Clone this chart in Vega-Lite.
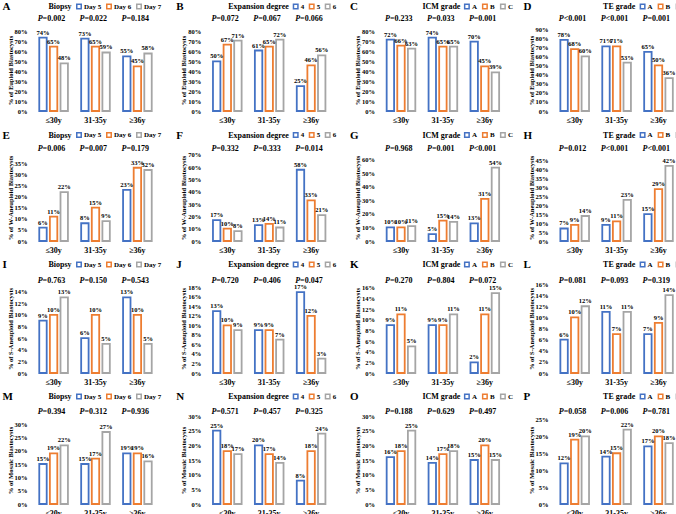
{
"$schema": "https://vega.github.io/schema/vega-lite/v6.json",
"padding": {"left": 2, "top": 1, "right": 0, "bottom": 0},
"background": "white",
"columns": 4,
"spacing": {"row": 43, "column": 54.7},
"bounds": "flush",
"align": "each",
"resolve": {"scale": {"x": "independent", "y": "independent", "xOffset": "independent", "color": "independent"}, "legend": {"color": "independent"}},
"config": {
  "view": {"stroke": null},
  "font": "Liberation Serif",
  "axis": {"grid": false, "domain": false, "ticks": false, "labelFont": "Liberation Serif", "labelFontWeight": "bold", "labelColor": "black", "titleFont": "Liberation Serif", "titleFontWeight": "bold", "titleColor": "black", "labelOverlap": false},
  "axisX": {"labelFontSize": 8, "labelPadding": 5, "labelAngle": 0},
  "axisY": {"labelFontSize": 6.5, "labelPadding": 9, "titleFontSize": 6.5, "titlePadding": 1, "labelFlush": false, "labelOverlap": false, "labelBound": false, "tickCount": 20},
  "legend": {"orient": "none", "direction": "horizontal", "titleOrient": "left", "titleFont": "Liberation Serif", "titleFontSize": 8, "titleFontWeight": "bold", "titleColor": "black", "labelFont": "Liberation Serif", "labelFontSize": 7, "labelFontWeight": "bold", "labelColor": "black", "symbolType": "square", "symbolSize": 20, "symbolStrokeWidth": 1.5, "symbolFillColor": "white", "titlePadding": 3, "columnPadding": 2, "labelOffset": 1.5, "padding": 0, "gridAlign": "none"},
  "title": {"anchor": "start", "frame": "group", "dx": -33.5, "offset": -9, "fontSize": 11, "font": "Liberation Serif", "fontWeight": "bold", "color": "black"},
  "text": {"font": "Liberation Serif", "fontWeight": "bold", "color": "black"}
},
"datasets": {
"bars": [
{"panel":"A","age":"≤30y","cat":"Day 5","v":0.74},{"panel":"A","age":"≤30y","cat":"Day 6","v":0.65},{"panel":"A","age":"≤30y","cat":"Day 7","v":0.48},
{"panel":"A","age":"31-35y","cat":"Day 5","v":0.73},{"panel":"A","age":"31-35y","cat":"Day 6","v":0.65},{"panel":"A","age":"31-35y","cat":"Day 7","v":0.59},
{"panel":"A","age":"≥36y","cat":"Day 5","v":0.55},{"panel":"A","age":"≥36y","cat":"Day 6","v":0.45},{"panel":"A","age":"≥36y","cat":"Day 7","v":0.58},
{"panel":"B","age":"≤30y","cat":"4","v":0.50},{"panel":"B","age":"≤30y","cat":"5","v":0.67},{"panel":"B","age":"≤30y","cat":"6","v":0.71},
{"panel":"B","age":"31-35y","cat":"4","v":0.61},{"panel":"B","age":"31-35y","cat":"5","v":0.65},{"panel":"B","age":"31-35y","cat":"6","v":0.72},
{"panel":"B","age":"≥36y","cat":"4","v":0.25},{"panel":"B","age":"≥36y","cat":"5","v":0.46},{"panel":"B","age":"≥36y","cat":"6","v":0.56},
{"panel":"C","age":"≤30y","cat":"A","v":0.72},{"panel":"C","age":"≤30y","cat":"B","v":0.66},{"panel":"C","age":"≤30y","cat":"C","v":0.63},
{"panel":"C","age":"31-35y","cat":"A","v":0.74},{"panel":"C","age":"31-35y","cat":"B","v":0.65},{"panel":"C","age":"31-35y","cat":"C","v":0.65},
{"panel":"C","age":"≥36y","cat":"A","v":0.70},{"panel":"C","age":"≥36y","cat":"B","v":0.45},{"panel":"C","age":"≥36y","cat":"C","v":0.39},
{"panel":"D","age":"≤30y","cat":"A","v":0.78},{"panel":"D","age":"≤30y","cat":"B","v":0.68},{"panel":"D","age":"≤30y","cat":"C","v":0.60},
{"panel":"D","age":"31-35y","cat":"A","v":0.71},{"panel":"D","age":"31-35y","cat":"B","v":0.71},{"panel":"D","age":"31-35y","cat":"C","v":0.53},
{"panel":"D","age":"≥36y","cat":"A","v":0.65},{"panel":"D","age":"≥36y","cat":"B","v":0.50},{"panel":"D","age":"≥36y","cat":"C","v":0.36},
{"panel":"E","age":"≤30y","cat":"Day 5","v":0.06},{"panel":"E","age":"≤30y","cat":"Day 6","v":0.11},{"panel":"E","age":"≤30y","cat":"Day 7","v":0.22},
{"panel":"E","age":"31-35y","cat":"Day 5","v":0.08},{"panel":"E","age":"31-35y","cat":"Day 6","v":0.15},{"panel":"E","age":"31-35y","cat":"Day 7","v":0.09},
{"panel":"E","age":"≥36y","cat":"Day 5","v":0.23},{"panel":"E","age":"≥36y","cat":"Day 6","v":0.33},{"panel":"E","age":"≥36y","cat":"Day 7","v":0.32},
{"panel":"F","age":"≤30y","cat":"4","v":0.17},{"panel":"F","age":"≤30y","cat":"5","v":0.10},{"panel":"F","age":"≤30y","cat":"6","v":0.08},
{"panel":"F","age":"31-35y","cat":"4","v":0.13},{"panel":"F","age":"31-35y","cat":"5","v":0.14},{"panel":"F","age":"31-35y","cat":"6","v":0.11},
{"panel":"F","age":"≥36y","cat":"4","v":0.58},{"panel":"F","age":"≥36y","cat":"5","v":0.33},{"panel":"F","age":"≥36y","cat":"6","v":0.21},
{"panel":"G","age":"≤30y","cat":"A","v":0.10},{"panel":"G","age":"≤30y","cat":"B","v":0.10},{"panel":"G","age":"≤30y","cat":"C","v":0.11},
{"panel":"G","age":"31-35y","cat":"A","v":0.05},{"panel":"G","age":"31-35y","cat":"B","v":0.15},{"panel":"G","age":"31-35y","cat":"C","v":0.14},
{"panel":"G","age":"≥36y","cat":"A","v":0.13},{"panel":"G","age":"≥36y","cat":"B","v":0.31},{"panel":"G","age":"≥36y","cat":"C","v":0.54},
{"panel":"H","age":"≤30y","cat":"A","v":0.07},{"panel":"H","age":"≤30y","cat":"B","v":0.09},{"panel":"H","age":"≤30y","cat":"C","v":0.14},
{"panel":"H","age":"31-35y","cat":"A","v":0.09},{"panel":"H","age":"31-35y","cat":"B","v":0.11},{"panel":"H","age":"31-35y","cat":"C","v":0.23},
{"panel":"H","age":"≥36y","cat":"A","v":0.15},{"panel":"H","age":"≥36y","cat":"B","v":0.29},{"panel":"H","age":"≥36y","cat":"C","v":0.42},
{"panel":"I","age":"≤30y","cat":"Day 5","v":0.09},{"panel":"I","age":"≤30y","cat":"Day 6","v":0.10},{"panel":"I","age":"≤30y","cat":"Day 7","v":0.13},
{"panel":"I","age":"31-35y","cat":"Day 5","v":0.06},{"panel":"I","age":"31-35y","cat":"Day 6","v":0.10},{"panel":"I","age":"31-35y","cat":"Day 7","v":0.05},
{"panel":"I","age":"≥36y","cat":"Day 5","v":0.13},{"panel":"I","age":"≥36y","cat":"Day 6","v":0.10},{"panel":"I","age":"≥36y","cat":"Day 7","v":0.05},
{"panel":"J","age":"≤30y","cat":"4","v":0.13},{"panel":"J","age":"≤30y","cat":"5","v":0.10},{"panel":"J","age":"≤30y","cat":"6","v":0.09},
{"panel":"J","age":"31-35y","cat":"4","v":0.09},{"panel":"J","age":"31-35y","cat":"5","v":0.09},{"panel":"J","age":"31-35y","cat":"6","v":0.07},
{"panel":"J","age":"≥36y","cat":"4","v":0.17},{"panel":"J","age":"≥36y","cat":"5","v":0.12},{"panel":"J","age":"≥36y","cat":"6","v":0.03},
{"panel":"K","age":"≤30y","cat":"A","v":0.09},{"panel":"K","age":"≤30y","cat":"B","v":0.11},{"panel":"K","age":"≤30y","cat":"C","v":0.05},
{"panel":"K","age":"31-35y","cat":"A","v":0.09},{"panel":"K","age":"31-35y","cat":"B","v":0.09},{"panel":"K","age":"31-35y","cat":"C","v":0.11},
{"panel":"K","age":"≥36y","cat":"A","v":0.02},{"panel":"K","age":"≥36y","cat":"B","v":0.11},{"panel":"K","age":"≥36y","cat":"C","v":0.15},
{"panel":"L","age":"≤30y","cat":"A","v":0.06},{"panel":"L","age":"≤30y","cat":"B","v":0.10},{"panel":"L","age":"≤30y","cat":"C","v":0.12},
{"panel":"L","age":"31-35y","cat":"A","v":0.11},{"panel":"L","age":"31-35y","cat":"B","v":0.07},{"panel":"L","age":"31-35y","cat":"C","v":0.11},
{"panel":"L","age":"≥36y","cat":"A","v":0.07},{"panel":"L","age":"≥36y","cat":"B","v":0.09},{"panel":"L","age":"≥36y","cat":"C","v":0.14},
{"panel":"M","age":"≤30y","cat":"Day 5","v":0.15},{"panel":"M","age":"≤30y","cat":"Day 6","v":0.19},{"panel":"M","age":"≤30y","cat":"Day 7","v":0.22},
{"panel":"M","age":"31-35y","cat":"Day 5","v":0.15},{"panel":"M","age":"31-35y","cat":"Day 6","v":0.17},{"panel":"M","age":"31-35y","cat":"Day 7","v":0.27},
{"panel":"M","age":"≥36y","cat":"Day 5","v":0.19},{"panel":"M","age":"≥36y","cat":"Day 6","v":0.19},{"panel":"M","age":"≥36y","cat":"Day 7","v":0.16},
{"panel":"N","age":"≤30y","cat":"4","v":0.25},{"panel":"N","age":"≤30y","cat":"5","v":0.18},{"panel":"N","age":"≤30y","cat":"6","v":0.17},
{"panel":"N","age":"31-35y","cat":"4","v":0.20},{"panel":"N","age":"31-35y","cat":"5","v":0.17},{"panel":"N","age":"31-35y","cat":"6","v":0.14},
{"panel":"N","age":"≥36y","cat":"4","v":0.08},{"panel":"N","age":"≥36y","cat":"5","v":0.18},{"panel":"N","age":"≥36y","cat":"6","v":0.24},
{"panel":"O","age":"≤30y","cat":"A","v":0.16},{"panel":"O","age":"≤30y","cat":"B","v":0.18},{"panel":"O","age":"≤30y","cat":"C","v":0.25},
{"panel":"O","age":"31-35y","cat":"A","v":0.14},{"panel":"O","age":"31-35y","cat":"B","v":0.17},{"panel":"O","age":"31-35y","cat":"C","v":0.18},
{"panel":"O","age":"≥36y","cat":"A","v":0.15},{"panel":"O","age":"≥36y","cat":"B","v":0.20},{"panel":"O","age":"≥36y","cat":"C","v":0.15},
{"panel":"P","age":"≤30y","cat":"A","v":0.12},{"panel":"P","age":"≤30y","cat":"B","v":0.19},{"panel":"P","age":"≤30y","cat":"C","v":0.20},
{"panel":"P","age":"31-35y","cat":"A","v":0.14},{"panel":"P","age":"31-35y","cat":"B","v":0.15},{"panel":"P","age":"31-35y","cat":"C","v":0.22},
{"panel":"P","age":"≥36y","cat":"A","v":0.17},{"panel":"P","age":"≥36y","cat":"B","v":0.20},{"panel":"P","age":"≥36y","cat":"C","v":0.18}
],
"pv": [
{"panel":"A","age":"≤30y","rest":"=0.002"},{"panel":"A","age":"31-35y","rest":"=0.022"},{"panel":"A","age":"≥36y","rest":"=0.184"},
{"panel":"B","age":"≤30y","rest":"=0.072"},{"panel":"B","age":"31-35y","rest":"=0.067"},{"panel":"B","age":"≥36y","rest":"=0.066"},
{"panel":"C","age":"≤30y","rest":"=0.233"},{"panel":"C","age":"31-35y","rest":"=0.033"},{"panel":"C","age":"≥36y","rest":"=0.001"},
{"panel":"D","age":"≤30y","rest":"<0.001"},{"panel":"D","age":"31-35y","rest":" <0.001"},{"panel":"D","age":"≥36y","rest":"=0.001"},
{"panel":"E","age":"≤30y","rest":"=0.006"},{"panel":"E","age":"31-35y","rest":"=0.007"},{"panel":"E","age":"≥36y","rest":"=0.179"},
{"panel":"F","age":"≤30y","rest":"=0.332"},{"panel":"F","age":"31-35y","rest":"=0.333"},{"panel":"F","age":"≥36y","rest":"=0.014"},
{"panel":"G","age":"≤30y","rest":"=0.968"},{"panel":"G","age":"31-35y","rest":"=0.001"},{"panel":"G","age":"≥36y","rest":" <0.001"},
{"panel":"H","age":"≤30y","rest":"=0.012"},{"panel":"H","age":"31-35y","rest":" <0.001"},{"panel":"H","age":"≥36y","rest":"<0.001"},
{"panel":"I","age":"≤30y","rest":"=0.763"},{"panel":"I","age":"31-35y","rest":"=0.150"},{"panel":"I","age":"≥36y","rest":"=0.543"},
{"panel":"J","age":"≤30y","rest":"=0.720"},{"panel":"J","age":"31-35y","rest":"=0.406"},{"panel":"J","age":"≥36y","rest":"=0.047"},
{"panel":"K","age":"≤30y","rest":"=0.270"},{"panel":"K","age":"31-35y","rest":"=0.804"},{"panel":"K","age":"≥36y","rest":"=0.072"},
{"panel":"L","age":"≤30y","rest":"=0.081"},{"panel":"L","age":"31-35y","rest":"=0.093"},{"panel":"L","age":"≥36y","rest":"=0.319"},
{"panel":"M","age":"≤30y","rest":"=0.394"},{"panel":"M","age":"31-35y","rest":"=0.312"},{"panel":"M","age":"≥36y","rest":"=0.936"},
{"panel":"N","age":"≤30y","rest":"=0.571"},{"panel":"N","age":"31-35y","rest":"=0.457"},{"panel":"N","age":"≥36y","rest":"=0.325"},
{"panel":"O","age":"≤30y","rest":"=0.188"},{"panel":"O","age":"31-35y","rest":"=0.629"},{"panel":"O","age":"≥36y","rest":"=0.497"},
{"panel":"P","age":"≤30y","rest":"=0.058"},{"panel":"P","age":"31-35y","rest":"=0.006"},{"panel":"P","age":"≥36y","rest":"=0.781"}
]
},
"concat": [
{"title": {"text": "A"}, "width": 119, "height": 82, "layer": [
 {"data": {"name": "bars"}, "transform": [{"filter": "datum.panel == 'A'"}], "mark": {"type": "bar", "filled": false, "strokeWidth": 1.8},
  "encoding": {"x": {"field": "age", "type": "nominal", "sort": ["≤30y","31-35y","≥36y"], "title": null, "scale": {"paddingInner": 0.24, "paddingOuter": 0.04}},
   "xOffset": {"field": "cat", "type": "nominal", "scale": {"paddingInner": 0.3, "paddingOuter": 0.15}},
   "y": {"field": "v", "type": "quantitative", "scale": {"domain": [0, 0.827], "nice": false}, "axis": {"values": [0,0.1,0.2,0.3,0.4,0.5,0.6,0.7,0.8], "tickCount": 20, "format": ".0%", "labelOverlap": false, "title": "% of Euploid Blastocysts"}},
   "color": {"field": "cat", "type": "nominal", "scale": {"range": ["#4472C4","#ED7D31","#A5A5A5"]}, "legend": {"title": "Biopsy", "legendX": 12.5, "legendY": -26}}}},
 {"data": {"name": "bars"}, "transform": [{"filter": "datum.panel == 'A'"}], "mark": {"type": "text", "baseline": "bottom", "dy": -2, "fontSize": 6.5},
  "encoding": {"x": {"field": "age", "type": "nominal", "sort": ["≤30y","31-35y","≥36y"]}, "xOffset": {"field": "cat", "type": "nominal"}, "y": {"field": "v", "type": "quantitative"}, "text": {"field": "v", "type": "quantitative", "format": ".0%"}}},
 {"data": {"name": "pv"}, "transform": [{"filter": "datum.panel == 'A'"}], "mark": {"type": "text", "align": "right", "baseline": "middle", "dx": -11, "dy": -51, "fontSize": 8, "fontStyle": "italic"},
  "encoding": {"x": {"field": "age", "type": "nominal", "sort": ["≤30y","31-35y","≥36y"]}, "text": {"value": "P"}}},
 {"data": {"name": "pv"}, "transform": [{"filter": "datum.panel == 'A'"}], "mark": {"type": "text", "align": "left", "baseline": "middle", "dx": -11, "dy": -51, "fontSize": 8},
  "encoding": {"x": {"field": "age", "type": "nominal", "sort": ["≤30y","31-35y","≥36y"]}, "text": {"field": "rest"}}}
]},
{"title": {"text": "B"}, "width": 119, "height": 82, "layer": [
 {"data": {"name": "bars"}, "transform": [{"filter": "datum.panel == 'B'"}], "mark": {"type": "bar", "filled": false, "strokeWidth": 1.8},
  "encoding": {"x": {"field": "age", "type": "nominal", "sort": ["≤30y","31-35y","≥36y"], "title": null, "scale": {"paddingInner": 0.24, "paddingOuter": 0.04}},
   "xOffset": {"field": "cat", "type": "nominal", "scale": {"paddingInner": 0.3, "paddingOuter": 0.15}},
   "y": {"field": "v", "type": "quantitative", "scale": {"domain": [0, 0.827], "nice": false}, "axis": {"values": [0,0.1,0.2,0.3,0.4,0.5,0.6,0.7,0.8], "tickCount": 20, "format": ".0%", "labelOverlap": false, "title": "% of Euploid Blastocysts"}},
   "color": {"field": "cat", "type": "nominal", "scale": {"range": ["#4472C4","#ED7D31","#A5A5A5"]}, "legend": {"title": "Expansion degree", "legendX": 18.5, "legendY": -26}}}},
 {"data": {"name": "bars"}, "transform": [{"filter": "datum.panel == 'B'"}], "mark": {"type": "text", "baseline": "bottom", "dy": -2, "fontSize": 6.5},
  "encoding": {"x": {"field": "age", "type": "nominal", "sort": ["≤30y","31-35y","≥36y"]}, "xOffset": {"field": "cat", "type": "nominal"}, "y": {"field": "v", "type": "quantitative"}, "text": {"field": "v", "type": "quantitative", "format": ".0%"}}},
 {"data": {"name": "pv"}, "transform": [{"filter": "datum.panel == 'B'"}], "mark": {"type": "text", "align": "right", "baseline": "middle", "dx": -11, "dy": -51, "fontSize": 8, "fontStyle": "italic"},
  "encoding": {"x": {"field": "age", "type": "nominal", "sort": ["≤30y","31-35y","≥36y"]}, "text": {"value": "P"}}},
 {"data": {"name": "pv"}, "transform": [{"filter": "datum.panel == 'B'"}], "mark": {"type": "text", "align": "left", "baseline": "middle", "dx": -11, "dy": -51, "fontSize": 8},
  "encoding": {"x": {"field": "age", "type": "nominal", "sort": ["≤30y","31-35y","≥36y"]}, "text": {"field": "rest"}}}
]},
{"title": {"text": "C"}, "width": 119, "height": 82, "layer": [
 {"data": {"name": "bars"}, "transform": [{"filter": "datum.panel == 'C'"}], "mark": {"type": "bar", "filled": false, "strokeWidth": 1.8},
  "encoding": {"x": {"field": "age", "type": "nominal", "sort": ["≤30y","31-35y","≥36y"], "title": null, "scale": {"paddingInner": 0.24, "paddingOuter": 0.04}},
   "xOffset": {"field": "cat", "type": "nominal", "scale": {"paddingInner": 0.3, "paddingOuter": 0.15}},
   "y": {"field": "v", "type": "quantitative", "scale": {"domain": [0, 0.827], "nice": false}, "axis": {"values": [0,0.1,0.2,0.3,0.4,0.5,0.6,0.7,0.8], "tickCount": 20, "format": ".0%", "labelOverlap": false, "title": "% of Euploid Blastocysts"}},
   "color": {"field": "cat", "type": "nominal", "scale": {"range": ["#4472C4","#ED7D31","#A5A5A5"]}, "legend": {"title": "ICM grade", "legendX": 39, "legendY": -26}}}},
 {"data": {"name": "bars"}, "transform": [{"filter": "datum.panel == 'C'"}], "mark": {"type": "text", "baseline": "bottom", "dy": -2, "fontSize": 6.5},
  "encoding": {"x": {"field": "age", "type": "nominal", "sort": ["≤30y","31-35y","≥36y"]}, "xOffset": {"field": "cat", "type": "nominal"}, "y": {"field": "v", "type": "quantitative"}, "text": {"field": "v", "type": "quantitative", "format": ".0%"}}},
 {"data": {"name": "pv"}, "transform": [{"filter": "datum.panel == 'C'"}], "mark": {"type": "text", "align": "right", "baseline": "middle", "dx": -11, "dy": -51, "fontSize": 8, "fontStyle": "italic"},
  "encoding": {"x": {"field": "age", "type": "nominal", "sort": ["≤30y","31-35y","≥36y"]}, "text": {"value": "P"}}},
 {"data": {"name": "pv"}, "transform": [{"filter": "datum.panel == 'C'"}], "mark": {"type": "text", "align": "left", "baseline": "middle", "dx": -11, "dy": -51, "fontSize": 8},
  "encoding": {"x": {"field": "age", "type": "nominal", "sort": ["≤30y","31-35y","≥36y"]}, "text": {"field": "rest"}}}
]},
{"title": {"text": "D"}, "width": 119, "height": 82, "layer": [
 {"data": {"name": "bars"}, "transform": [{"filter": "datum.panel == 'D'"}], "mark": {"type": "bar", "filled": false, "strokeWidth": 1.8},
  "encoding": {"x": {"field": "age", "type": "nominal", "sort": ["≤30y","31-35y","≥36y"], "title": null, "scale": {"paddingInner": 0.24, "paddingOuter": 0.04}},
   "xOffset": {"field": "cat", "type": "nominal", "scale": {"paddingInner": 0.3, "paddingOuter": 0.15}},
   "y": {"field": "v", "type": "quantitative", "scale": {"domain": [0, 0.9], "nice": false}, "axis": {"values": [0,0.1,0.2,0.3,0.4,0.5,0.6,0.7,0.8,0.9], "tickCount": 20, "format": ".0%", "labelOverlap": false, "title": "% of Euploid Blastocysts"}},
   "color": {"field": "cat", "type": "nominal", "scale": {"range": ["#4472C4","#ED7D31","#A5A5A5"]}, "legend": {"title": "TE grade", "legendX": 46, "legendY": -26}}}},
 {"data": {"name": "bars"}, "transform": [{"filter": "datum.panel == 'D'"}], "mark": {"type": "text", "baseline": "bottom", "dy": -2, "fontSize": 6.5},
  "encoding": {"x": {"field": "age", "type": "nominal", "sort": ["≤30y","31-35y","≥36y"]}, "xOffset": {"field": "cat", "type": "nominal"}, "y": {"field": "v", "type": "quantitative"}, "text": {"field": "v", "type": "quantitative", "format": ".0%"}}},
 {"data": {"name": "pv"}, "transform": [{"filter": "datum.panel == 'D'"}], "mark": {"type": "text", "align": "right", "baseline": "middle", "dx": -11, "dy": -51, "fontSize": 8, "fontStyle": "italic"},
  "encoding": {"x": {"field": "age", "type": "nominal", "sort": ["≤30y","31-35y","≥36y"]}, "text": {"value": "P"}}},
 {"data": {"name": "pv"}, "transform": [{"filter": "datum.panel == 'D'"}], "mark": {"type": "text", "align": "left", "baseline": "middle", "dx": -11, "dy": -51, "fontSize": 8},
  "encoding": {"x": {"field": "age", "type": "nominal", "sort": ["≤30y","31-35y","≥36y"]}, "text": {"field": "rest"}}}
]},
{"title": {"text": "E"}, "width": 119, "height": 87, "layer": [
 {"data": {"name": "bars"}, "transform": [{"filter": "datum.panel == 'E'"}], "mark": {"type": "bar", "filled": false, "strokeWidth": 1.8},
  "encoding": {"x": {"field": "age", "type": "nominal", "sort": ["≤30y","31-35y","≥36y"], "title": null, "scale": {"paddingInner": 0.24, "paddingOuter": 0.04}},
   "xOffset": {"field": "cat", "type": "nominal", "scale": {"paddingInner": 0.3, "paddingOuter": 0.15}},
   "y": {"field": "v", "type": "quantitative", "scale": {"domain": [0, 0.392], "nice": false}, "axis": {"values": [0,0.05,0.1,0.15,0.2,0.25,0.3,0.35], "tickCount": 20, "format": ".0%", "labelOverlap": false, "title": "% of W-Aneuploid Blastocysts"}},
   "color": {"field": "cat", "type": "nominal", "scale": {"range": ["#4472C4","#ED7D31","#A5A5A5"]}, "legend": {"title": "Biopsy", "legendX": 12.5, "legendY": -22.5}}}},
 {"data": {"name": "bars"}, "transform": [{"filter": "datum.panel == 'E'"}], "mark": {"type": "text", "baseline": "bottom", "dy": -2, "fontSize": 6.5},
  "encoding": {"x": {"field": "age", "type": "nominal", "sort": ["≤30y","31-35y","≥36y"]}, "xOffset": {"field": "cat", "type": "nominal"}, "y": {"field": "v", "type": "quantitative"}, "text": {"field": "v", "type": "quantitative", "format": ".0%"}}},
 {"data": {"name": "pv"}, "transform": [{"filter": "datum.panel == 'E'"}], "mark": {"type": "text", "align": "right", "baseline": "middle", "dx": -11, "dy": -48.5, "fontSize": 8, "fontStyle": "italic"},
  "encoding": {"x": {"field": "age", "type": "nominal", "sort": ["≤30y","31-35y","≥36y"]}, "text": {"value": "P"}}},
 {"data": {"name": "pv"}, "transform": [{"filter": "datum.panel == 'E'"}], "mark": {"type": "text", "align": "left", "baseline": "middle", "dx": -11, "dy": -48.5, "fontSize": 8},
  "encoding": {"x": {"field": "age", "type": "nominal", "sort": ["≤30y","31-35y","≥36y"]}, "text": {"field": "rest"}}}
]},
{"title": {"text": "F"}, "width": 119, "height": 87, "layer": [
 {"data": {"name": "bars"}, "transform": [{"filter": "datum.panel == 'F'"}], "mark": {"type": "bar", "filled": false, "strokeWidth": 1.8},
  "encoding": {"x": {"field": "age", "type": "nominal", "sort": ["≤30y","31-35y","≥36y"], "title": null, "scale": {"paddingInner": 0.24, "paddingOuter": 0.04}},
   "xOffset": {"field": "cat", "type": "nominal", "scale": {"paddingInner": 0.3, "paddingOuter": 0.15}},
   "y": {"field": "v", "type": "quantitative", "scale": {"domain": [0, 0.708], "nice": false}, "axis": {"values": [0,0.1,0.2,0.3,0.4,0.5,0.6,0.7], "tickCount": 20, "format": ".0%", "labelOverlap": false, "title": "% of W-Aneuploid Blastocysts"}},
   "color": {"field": "cat", "type": "nominal", "scale": {"range": ["#4472C4","#ED7D31","#A5A5A5"]}, "legend": {"title": "Expansion degree", "legendX": 18.5, "legendY": -22.5}}}},
 {"data": {"name": "bars"}, "transform": [{"filter": "datum.panel == 'F'"}], "mark": {"type": "text", "baseline": "bottom", "dy": -2, "fontSize": 6.5},
  "encoding": {"x": {"field": "age", "type": "nominal", "sort": ["≤30y","31-35y","≥36y"]}, "xOffset": {"field": "cat", "type": "nominal"}, "y": {"field": "v", "type": "quantitative"}, "text": {"field": "v", "type": "quantitative", "format": ".0%"}}},
 {"data": {"name": "pv"}, "transform": [{"filter": "datum.panel == 'F'"}], "mark": {"type": "text", "align": "right", "baseline": "middle", "dx": -11, "dy": -48.5, "fontSize": 8, "fontStyle": "italic"},
  "encoding": {"x": {"field": "age", "type": "nominal", "sort": ["≤30y","31-35y","≥36y"]}, "text": {"value": "P"}}},
 {"data": {"name": "pv"}, "transform": [{"filter": "datum.panel == 'F'"}], "mark": {"type": "text", "align": "left", "baseline": "middle", "dx": -11, "dy": -48.5, "fontSize": 8},
  "encoding": {"x": {"field": "age", "type": "nominal", "sort": ["≤30y","31-35y","≥36y"]}, "text": {"field": "rest"}}}
]},
{"title": {"text": "G"}, "width": 119, "height": 87, "layer": [
 {"data": {"name": "bars"}, "transform": [{"filter": "datum.panel == 'G'"}], "mark": {"type": "bar", "filled": false, "strokeWidth": 1.8},
  "encoding": {"x": {"field": "age", "type": "nominal", "sort": ["≤30y","31-35y","≥36y"], "title": null, "scale": {"paddingInner": 0.24, "paddingOuter": 0.04}},
   "xOffset": {"field": "cat", "type": "nominal", "scale": {"paddingInner": 0.3, "paddingOuter": 0.15}},
   "y": {"field": "v", "type": "quantitative", "scale": {"domain": [0, 0.64], "nice": false}, "axis": {"values": [0,0.1,0.2,0.3,0.4,0.5,0.6], "tickCount": 20, "format": ".0%", "labelOverlap": false, "title": "% of W-Aneuploid Blastocysts"}},
   "color": {"field": "cat", "type": "nominal", "scale": {"range": ["#4472C4","#ED7D31","#A5A5A5"]}, "legend": {"title": "ICM grade", "legendX": 39, "legendY": -22.5}}}},
 {"data": {"name": "bars"}, "transform": [{"filter": "datum.panel == 'G'"}], "mark": {"type": "text", "baseline": "bottom", "dy": -2, "fontSize": 6.5},
  "encoding": {"x": {"field": "age", "type": "nominal", "sort": ["≤30y","31-35y","≥36y"]}, "xOffset": {"field": "cat", "type": "nominal"}, "y": {"field": "v", "type": "quantitative"}, "text": {"field": "v", "type": "quantitative", "format": ".0%"}}},
 {"data": {"name": "pv"}, "transform": [{"filter": "datum.panel == 'G'"}], "mark": {"type": "text", "align": "right", "baseline": "middle", "dx": -11, "dy": -48.5, "fontSize": 8, "fontStyle": "italic"},
  "encoding": {"x": {"field": "age", "type": "nominal", "sort": ["≤30y","31-35y","≥36y"]}, "text": {"value": "P"}}},
 {"data": {"name": "pv"}, "transform": [{"filter": "datum.panel == 'G'"}], "mark": {"type": "text", "align": "left", "baseline": "middle", "dx": -11, "dy": -48.5, "fontSize": 8},
  "encoding": {"x": {"field": "age", "type": "nominal", "sort": ["≤30y","31-35y","≥36y"]}, "text": {"field": "rest"}}}
]},
{"title": {"text": "H"}, "width": 119, "height": 87, "layer": [
 {"data": {"name": "bars"}, "transform": [{"filter": "datum.panel == 'H'"}], "mark": {"type": "bar", "filled": false, "strokeWidth": 1.8},
  "encoding": {"x": {"field": "age", "type": "nominal", "sort": ["≤30y","31-35y","≥36y"], "title": null, "scale": {"paddingInner": 0.24, "paddingOuter": 0.04}},
   "xOffset": {"field": "cat", "type": "nominal", "scale": {"paddingInner": 0.3, "paddingOuter": 0.15}},
   "y": {"field": "v", "type": "quantitative", "scale": {"domain": [0, 0.487], "nice": false}, "axis": {"values": [0,0.05,0.1,0.15,0.2,0.25,0.3,0.35,0.4,0.45], "tickCount": 20, "format": ".0%", "labelOverlap": false, "title": "% of W-Aneuploid Blastocysts"}},
   "color": {"field": "cat", "type": "nominal", "scale": {"range": ["#4472C4","#ED7D31","#A5A5A5"]}, "legend": {"title": "TE grade", "legendX": 46, "legendY": -22.5}}}},
 {"data": {"name": "bars"}, "transform": [{"filter": "datum.panel == 'H'"}], "mark": {"type": "text", "baseline": "bottom", "dy": -2, "fontSize": 6.5},
  "encoding": {"x": {"field": "age", "type": "nominal", "sort": ["≤30y","31-35y","≥36y"]}, "xOffset": {"field": "cat", "type": "nominal"}, "y": {"field": "v", "type": "quantitative"}, "text": {"field": "v", "type": "quantitative", "format": ".0%"}}},
 {"data": {"name": "pv"}, "transform": [{"filter": "datum.panel == 'H'"}], "mark": {"type": "text", "align": "right", "baseline": "middle", "dx": -11, "dy": -48.5, "fontSize": 8, "fontStyle": "italic"},
  "encoding": {"x": {"field": "age", "type": "nominal", "sort": ["≤30y","31-35y","≥36y"]}, "text": {"value": "P"}}},
 {"data": {"name": "pv"}, "transform": [{"filter": "datum.panel == 'H'"}], "mark": {"type": "text", "align": "left", "baseline": "middle", "dx": -11, "dy": -48.5, "fontSize": 8},
  "encoding": {"x": {"field": "age", "type": "nominal", "sort": ["≤30y","31-35y","≥36y"]}, "text": {"field": "rest"}}}
]},
{"title": {"text": "I"}, "width": 119, "height": 89, "layer": [
 {"data": {"name": "bars"}, "transform": [{"filter": "datum.panel == 'I'"}], "mark": {"type": "bar", "filled": false, "strokeWidth": 1.8},
  "encoding": {"x": {"field": "age", "type": "nominal", "sort": ["≤30y","31-35y","≥36y"], "title": null, "scale": {"paddingInner": 0.24, "paddingOuter": 0.04}},
   "xOffset": {"field": "cat", "type": "nominal", "scale": {"paddingInner": 0.3, "paddingOuter": 0.15}},
   "y": {"field": "v", "type": "quantitative", "scale": {"domain": [0, 0.153], "nice": false}, "axis": {"values": [0,0.02,0.04,0.06,0.08,0.1,0.12,0.14], "tickCount": 20, "format": ".0%", "labelOverlap": false, "title": "% of S-Aneuploid Blastocysts"}},
   "color": {"field": "cat", "type": "nominal", "scale": {"range": ["#4472C4","#ED7D31","#A5A5A5"]}, "legend": {"title": "Biopsy", "legendX": 12.5, "legendY": -23}}}},
 {"data": {"name": "bars"}, "transform": [{"filter": "datum.panel == 'I'"}], "mark": {"type": "text", "baseline": "bottom", "dy": -2, "fontSize": 6.5},
  "encoding": {"x": {"field": "age", "type": "nominal", "sort": ["≤30y","31-35y","≥36y"]}, "xOffset": {"field": "cat", "type": "nominal"}, "y": {"field": "v", "type": "quantitative"}, "text": {"field": "v", "type": "quantitative", "format": ".0%"}}},
 {"data": {"name": "pv"}, "transform": [{"filter": "datum.panel == 'I'"}], "mark": {"type": "text", "align": "right", "baseline": "middle", "dx": -11, "dy": -47.5, "fontSize": 8, "fontStyle": "italic"},
  "encoding": {"x": {"field": "age", "type": "nominal", "sort": ["≤30y","31-35y","≥36y"]}, "text": {"value": "P"}}},
 {"data": {"name": "pv"}, "transform": [{"filter": "datum.panel == 'I'"}], "mark": {"type": "text", "align": "left", "baseline": "middle", "dx": -11, "dy": -47.5, "fontSize": 8},
  "encoding": {"x": {"field": "age", "type": "nominal", "sort": ["≤30y","31-35y","≥36y"]}, "text": {"field": "rest"}}}
]},
{"title": {"text": "J"}, "width": 119, "height": 89, "layer": [
 {"data": {"name": "bars"}, "transform": [{"filter": "datum.panel == 'J'"}], "mark": {"type": "bar", "filled": false, "strokeWidth": 1.8},
  "encoding": {"x": {"field": "age", "type": "nominal", "sort": ["≤30y","31-35y","≥36y"], "title": null, "scale": {"paddingInner": 0.24, "paddingOuter": 0.04}},
   "xOffset": {"field": "cat", "type": "nominal", "scale": {"paddingInner": 0.3, "paddingOuter": 0.15}},
   "y": {"field": "v", "type": "quantitative", "scale": {"domain": [0, 0.187], "nice": false}, "axis": {"values": [0,0.02,0.04,0.06,0.08,0.1,0.12,0.14,0.16,0.18], "tickCount": 20, "format": ".0%", "labelOverlap": false, "title": "% of S-Aneuploid Blastocysts"}},
   "color": {"field": "cat", "type": "nominal", "scale": {"range": ["#4472C4","#ED7D31","#A5A5A5"]}, "legend": {"title": "Expansion degree", "legendX": 18.5, "legendY": -23}}}},
 {"data": {"name": "bars"}, "transform": [{"filter": "datum.panel == 'J'"}], "mark": {"type": "text", "baseline": "bottom", "dy": -2, "fontSize": 6.5},
  "encoding": {"x": {"field": "age", "type": "nominal", "sort": ["≤30y","31-35y","≥36y"]}, "xOffset": {"field": "cat", "type": "nominal"}, "y": {"field": "v", "type": "quantitative"}, "text": {"field": "v", "type": "quantitative", "format": ".0%"}}},
 {"data": {"name": "pv"}, "transform": [{"filter": "datum.panel == 'J'"}], "mark": {"type": "text", "align": "right", "baseline": "middle", "dx": -11, "dy": -47.5, "fontSize": 8, "fontStyle": "italic"},
  "encoding": {"x": {"field": "age", "type": "nominal", "sort": ["≤30y","31-35y","≥36y"]}, "text": {"value": "P"}}},
 {"data": {"name": "pv"}, "transform": [{"filter": "datum.panel == 'J'"}], "mark": {"type": "text", "align": "left", "baseline": "middle", "dx": -11, "dy": -47.5, "fontSize": 8},
  "encoding": {"x": {"field": "age", "type": "nominal", "sort": ["≤30y","31-35y","≥36y"]}, "text": {"field": "rest"}}}
]},
{"title": {"text": "K"}, "width": 119, "height": 89, "layer": [
 {"data": {"name": "bars"}, "transform": [{"filter": "datum.panel == 'K'"}], "mark": {"type": "bar", "filled": false, "strokeWidth": 1.8},
  "encoding": {"x": {"field": "age", "type": "nominal", "sort": ["≤30y","31-35y","≥36y"], "title": null, "scale": {"paddingInner": 0.24, "paddingOuter": 0.04}},
   "xOffset": {"field": "cat", "type": "nominal", "scale": {"paddingInner": 0.3, "paddingOuter": 0.15}},
   "y": {"field": "v", "type": "quantitative", "scale": {"domain": [0, 0.167], "nice": false}, "axis": {"values": [0,0.02,0.04,0.06,0.08,0.1,0.12,0.14,0.16], "tickCount": 20, "format": ".0%", "labelOverlap": false, "title": "% of S-Aneuploid Blastocysts"}},
   "color": {"field": "cat", "type": "nominal", "scale": {"range": ["#4472C4","#ED7D31","#A5A5A5"]}, "legend": {"title": "ICM grade", "legendX": 39, "legendY": -23}}}},
 {"data": {"name": "bars"}, "transform": [{"filter": "datum.panel == 'K'"}], "mark": {"type": "text", "baseline": "bottom", "dy": -2, "fontSize": 6.5},
  "encoding": {"x": {"field": "age", "type": "nominal", "sort": ["≤30y","31-35y","≥36y"]}, "xOffset": {"field": "cat", "type": "nominal"}, "y": {"field": "v", "type": "quantitative"}, "text": {"field": "v", "type": "quantitative", "format": ".0%"}}},
 {"data": {"name": "pv"}, "transform": [{"filter": "datum.panel == 'K'"}], "mark": {"type": "text", "align": "right", "baseline": "middle", "dx": -11, "dy": -47.5, "fontSize": 8, "fontStyle": "italic"},
  "encoding": {"x": {"field": "age", "type": "nominal", "sort": ["≤30y","31-35y","≥36y"]}, "text": {"value": "P"}}},
 {"data": {"name": "pv"}, "transform": [{"filter": "datum.panel == 'K'"}], "mark": {"type": "text", "align": "left", "baseline": "middle", "dx": -11, "dy": -47.5, "fontSize": 8},
  "encoding": {"x": {"field": "age", "type": "nominal", "sort": ["≤30y","31-35y","≥36y"]}, "text": {"field": "rest"}}}
]},
{"title": {"text": "L"}, "width": 119, "height": 89, "layer": [
 {"data": {"name": "bars"}, "transform": [{"filter": "datum.panel == 'L'"}], "mark": {"type": "bar", "filled": false, "strokeWidth": 1.8},
  "encoding": {"x": {"field": "age", "type": "nominal", "sort": ["≤30y","31-35y","≥36y"], "title": null, "scale": {"paddingInner": 0.24, "paddingOuter": 0.04}},
   "xOffset": {"field": "cat", "type": "nominal", "scale": {"paddingInner": 0.3, "paddingOuter": 0.15}},
   "y": {"field": "v", "type": "quantitative", "scale": {"domain": [0, 0.16], "nice": false}, "axis": {"values": [0,0.02,0.04,0.06,0.08,0.1,0.12,0.14,0.16], "tickCount": 20, "format": ".0%", "labelOverlap": false, "title": "% of S-Aneuploid Blastocysts"}},
   "color": {"field": "cat", "type": "nominal", "scale": {"range": ["#4472C4","#ED7D31","#A5A5A5"]}, "legend": {"title": "TE grade", "legendX": 46, "legendY": -23}}}},
 {"data": {"name": "bars"}, "transform": [{"filter": "datum.panel == 'L'"}], "mark": {"type": "text", "baseline": "bottom", "dy": -2, "fontSize": 6.5},
  "encoding": {"x": {"field": "age", "type": "nominal", "sort": ["≤30y","31-35y","≥36y"]}, "xOffset": {"field": "cat", "type": "nominal"}, "y": {"field": "v", "type": "quantitative"}, "text": {"field": "v", "type": "quantitative", "format": ".0%"}}},
 {"data": {"name": "pv"}, "transform": [{"filter": "datum.panel == 'L'"}], "mark": {"type": "text", "align": "right", "baseline": "middle", "dx": -11, "dy": -47.5, "fontSize": 8, "fontStyle": "italic"},
  "encoding": {"x": {"field": "age", "type": "nominal", "sort": ["≤30y","31-35y","≥36y"]}, "text": {"value": "P"}}},
 {"data": {"name": "pv"}, "transform": [{"filter": "datum.panel == 'L'"}], "mark": {"type": "text", "align": "left", "baseline": "middle", "dx": -11, "dy": -47.5, "fontSize": 8},
  "encoding": {"x": {"field": "age", "type": "nominal", "sort": ["≤30y","31-35y","≥36y"]}, "text": {"field": "rest"}}}
]},
{"title": {"text": "M"}, "width": 119, "height": 88, "layer": [
 {"data": {"name": "bars"}, "transform": [{"filter": "datum.panel == 'M'"}], "mark": {"type": "bar", "filled": false, "strokeWidth": 1.8},
  "encoding": {"x": {"field": "age", "type": "nominal", "sort": ["≤30y","31-35y","≥36y"], "title": null, "scale": {"paddingInner": 0.24, "paddingOuter": 0.04}},
   "xOffset": {"field": "cat", "type": "nominal", "scale": {"paddingInner": 0.3, "paddingOuter": 0.15}},
   "y": {"field": "v", "type": "quantitative", "scale": {"domain": [0, 0.33], "nice": false}, "axis": {"values": [0,0.05,0.1,0.15,0.2,0.25,0.3], "tickCount": 20, "format": ".0%", "labelOverlap": false, "title": "% of Mosaic Blastocysts"}},
   "color": {"field": "cat", "type": "nominal", "scale": {"range": ["#4472C4","#ED7D31","#A5A5A5"]}, "legend": {"title": "Biopsy", "legendX": 12.5, "legendY": -23}}}},
 {"data": {"name": "bars"}, "transform": [{"filter": "datum.panel == 'M'"}], "mark": {"type": "text", "baseline": "bottom", "dy": -2, "fontSize": 6.5},
  "encoding": {"x": {"field": "age", "type": "nominal", "sort": ["≤30y","31-35y","≥36y"]}, "xOffset": {"field": "cat", "type": "nominal"}, "y": {"field": "v", "type": "quantitative"}, "text": {"field": "v", "type": "quantitative", "format": ".0%"}}},
 {"data": {"name": "pv"}, "transform": [{"filter": "datum.panel == 'M'"}], "mark": {"type": "text", "align": "right", "baseline": "middle", "dx": -11, "dy": -48, "fontSize": 8, "fontStyle": "italic"},
  "encoding": {"x": {"field": "age", "type": "nominal", "sort": ["≤30y","31-35y","≥36y"]}, "text": {"value": "P"}}},
 {"data": {"name": "pv"}, "transform": [{"filter": "datum.panel == 'M'"}], "mark": {"type": "text", "align": "left", "baseline": "middle", "dx": -11, "dy": -48, "fontSize": 8},
  "encoding": {"x": {"field": "age", "type": "nominal", "sort": ["≤30y","31-35y","≥36y"]}, "text": {"field": "rest"}}}
]},
{"title": {"text": "N"}, "width": 119, "height": 88, "layer": [
 {"data": {"name": "bars"}, "transform": [{"filter": "datum.panel == 'N'"}], "mark": {"type": "bar", "filled": false, "strokeWidth": 1.8},
  "encoding": {"x": {"field": "age", "type": "nominal", "sort": ["≤30y","31-35y","≥36y"], "title": null, "scale": {"paddingInner": 0.24, "paddingOuter": 0.04}},
   "xOffset": {"field": "cat", "type": "nominal", "scale": {"paddingInner": 0.3, "paddingOuter": 0.15}},
   "y": {"field": "v", "type": "quantitative", "scale": {"domain": [0, 0.30], "nice": false}, "axis": {"values": [0,0.05,0.1,0.15,0.2,0.25,0.3], "tickCount": 20, "format": ".0%", "labelOverlap": false, "title": "% of Mosaic Blastocysts"}},
   "color": {"field": "cat", "type": "nominal", "scale": {"range": ["#4472C4","#ED7D31","#A5A5A5"]}, "legend": {"title": "Expansion degree", "legendX": 18.5, "legendY": -23}}}},
 {"data": {"name": "bars"}, "transform": [{"filter": "datum.panel == 'N'"}], "mark": {"type": "text", "baseline": "bottom", "dy": -2, "fontSize": 6.5},
  "encoding": {"x": {"field": "age", "type": "nominal", "sort": ["≤30y","31-35y","≥36y"]}, "xOffset": {"field": "cat", "type": "nominal"}, "y": {"field": "v", "type": "quantitative"}, "text": {"field": "v", "type": "quantitative", "format": ".0%"}}},
 {"data": {"name": "pv"}, "transform": [{"filter": "datum.panel == 'N'"}], "mark": {"type": "text", "align": "right", "baseline": "middle", "dx": -11, "dy": -48, "fontSize": 8, "fontStyle": "italic"},
  "encoding": {"x": {"field": "age", "type": "nominal", "sort": ["≤30y","31-35y","≥36y"]}, "text": {"value": "P"}}},
 {"data": {"name": "pv"}, "transform": [{"filter": "datum.panel == 'N'"}], "mark": {"type": "text", "align": "left", "baseline": "middle", "dx": -11, "dy": -48, "fontSize": 8},
  "encoding": {"x": {"field": "age", "type": "nominal", "sort": ["≤30y","31-35y","≥36y"]}, "text": {"field": "rest"}}}
]},
{"title": {"text": "O"}, "width": 119, "height": 88, "layer": [
 {"data": {"name": "bars"}, "transform": [{"filter": "datum.panel == 'O'"}], "mark": {"type": "bar", "filled": false, "strokeWidth": 1.8},
  "encoding": {"x": {"field": "age", "type": "nominal", "sort": ["≤30y","31-35y","≥36y"], "title": null, "scale": {"paddingInner": 0.24, "paddingOuter": 0.04}},
   "xOffset": {"field": "cat", "type": "nominal", "scale": {"paddingInner": 0.3, "paddingOuter": 0.15}},
   "y": {"field": "v", "type": "quantitative", "scale": {"domain": [0, 0.30], "nice": false}, "axis": {"values": [0,0.05,0.1,0.15,0.2,0.25,0.3], "tickCount": 20, "format": ".0%", "labelOverlap": false, "title": "% of Mosaic Blastocysts"}},
   "color": {"field": "cat", "type": "nominal", "scale": {"range": ["#4472C4","#ED7D31","#A5A5A5"]}, "legend": {"title": "ICM grade", "legendX": 39, "legendY": -23}}}},
 {"data": {"name": "bars"}, "transform": [{"filter": "datum.panel == 'O'"}], "mark": {"type": "text", "baseline": "bottom", "dy": -2, "fontSize": 6.5},
  "encoding": {"x": {"field": "age", "type": "nominal", "sort": ["≤30y","31-35y","≥36y"]}, "xOffset": {"field": "cat", "type": "nominal"}, "y": {"field": "v", "type": "quantitative"}, "text": {"field": "v", "type": "quantitative", "format": ".0%"}}},
 {"data": {"name": "pv"}, "transform": [{"filter": "datum.panel == 'O'"}], "mark": {"type": "text", "align": "right", "baseline": "middle", "dx": -11, "dy": -48, "fontSize": 8, "fontStyle": "italic"},
  "encoding": {"x": {"field": "age", "type": "nominal", "sort": ["≤30y","31-35y","≥36y"]}, "text": {"value": "P"}}},
 {"data": {"name": "pv"}, "transform": [{"filter": "datum.panel == 'O'"}], "mark": {"type": "text", "align": "left", "baseline": "middle", "dx": -11, "dy": -48, "fontSize": 8},
  "encoding": {"x": {"field": "age", "type": "nominal", "sort": ["≤30y","31-35y","≥36y"]}, "text": {"field": "rest"}}}
]},
{"title": {"text": "P"}, "width": 119, "height": 88, "layer": [
 {"data": {"name": "bars"}, "transform": [{"filter": "datum.panel == 'P'"}], "mark": {"type": "bar", "filled": false, "strokeWidth": 1.8},
  "encoding": {"x": {"field": "age", "type": "nominal", "sort": ["≤30y","31-35y","≥36y"], "title": null, "scale": {"paddingInner": 0.24, "paddingOuter": 0.04}},
   "xOffset": {"field": "cat", "type": "nominal", "scale": {"paddingInner": 0.3, "paddingOuter": 0.15}},
   "y": {"field": "v", "type": "quantitative", "scale": {"domain": [0, 0.26], "nice": false}, "axis": {"values": [0,0.05,0.1,0.15,0.2,0.25], "tickCount": 20, "format": ".0%", "labelOverlap": false, "title": "% of Mosaic Blastocysts"}},
   "color": {"field": "cat", "type": "nominal", "scale": {"range": ["#4472C4","#ED7D31","#A5A5A5"]}, "legend": {"title": "TE grade", "legendX": 46, "legendY": -23}}}},
 {"data": {"name": "bars"}, "transform": [{"filter": "datum.panel == 'P'"}], "mark": {"type": "text", "baseline": "bottom", "dy": -2, "fontSize": 6.5},
  "encoding": {"x": {"field": "age", "type": "nominal", "sort": ["≤30y","31-35y","≥36y"]}, "xOffset": {"field": "cat", "type": "nominal"}, "y": {"field": "v", "type": "quantitative"}, "text": {"field": "v", "type": "quantitative", "format": ".0%"}}},
 {"data": {"name": "pv"}, "transform": [{"filter": "datum.panel == 'P'"}], "mark": {"type": "text", "align": "right", "baseline": "middle", "dx": -11, "dy": -48, "fontSize": 8, "fontStyle": "italic"},
  "encoding": {"x": {"field": "age", "type": "nominal", "sort": ["≤30y","31-35y","≥36y"]}, "text": {"value": "P"}}},
 {"data": {"name": "pv"}, "transform": [{"filter": "datum.panel == 'P'"}], "mark": {"type": "text", "align": "left", "baseline": "middle", "dx": -11, "dy": -48, "fontSize": 8},
  "encoding": {"x": {"field": "age", "type": "nominal", "sort": ["≤30y","31-35y","≥36y"]}, "text": {"field": "rest"}}}
]}
]
}
